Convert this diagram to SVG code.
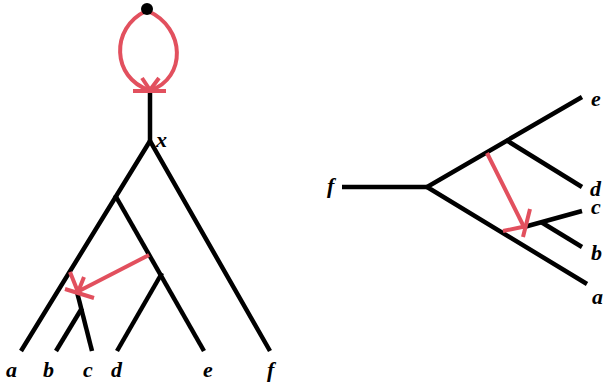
<svg xmlns="http://www.w3.org/2000/svg" width="603" height="388" viewBox="0 0 603 388">
<style>
.e{fill:none;stroke:#000;stroke-width:4.5;stroke-linecap:butt;stroke-linejoin:miter}
.r{fill:none;stroke:#e2505e;stroke-width:4;stroke-linecap:butt;stroke-linejoin:round}
.t{font-family:"Liberation Serif","Times New Roman",serif;font-style:italic;font-weight:bold;font-size:22px;fill:#000}
</style>
<rect width="603" height="388" fill="#fff"/>
<g id="connectors">
<g id="left-tree-edges">
<path class="e" d="M150,92 L150,141"/>
<path class="e" d="M21,351 L150,141 L270,351"/>
<path class="e" d="M115,195 L204,351"/>
<path class="e" d="M162,273 L117,351"/>
<path class="e" d="M77,292 L92,351"/>
<path class="e" d="M82,308 L56,351"/>
</g>
<g id="right-tree-edges">
<path class="e" d="M342,187 L427,187"/>
<path class="e" d="M582,97 L427,187 L587,284"/>
<path class="e" d="M506,140 L582,187"/>
<path class="e" d="M524,227 L582,211"/>
<path class="e" d="M541,222 L582,247"/>
</g>
<g id="reticulations">
<path class="r" d="M146,11 C110,28 112,78 149,90"/>
<path class="r" d="M148,11 C186,28 186,78 151,90"/>
<path class="r" d="M142,78 L150,90 L159,78 M133,91 L166,91"/>
<path class="r" d="M149,255 L79,291"/>
<path class="r" d="M70,272 L78,292 L84,277 M65,289 L94,298"/>
<path class="r" d="M487,153 L524,227"/>
<path class="r" d="M530,209 L523,237 M503,231 L527,226"/>
</g>
</g>
<g id="node-root-dot"><circle cx="147" cy="9" r="6" fill="#000"/></g>
<g id="node-x"><text class="t" x="156" y="147">x</text></g>
<g id="left-leaves">
<g id="leaf-a-left"><text class="t" x="6" y="377">a</text></g>
<g id="leaf-b-left"><text class="t" x="43" y="377">b</text></g>
<g id="leaf-c-left"><text class="t" x="83" y="377">c</text></g>
<g id="leaf-d-left"><text class="t" x="111" y="377">d</text></g>
<g id="leaf-e-left"><text class="t" x="203" y="377">e</text></g>
<g id="leaf-f-left"><text class="t" x="267" y="377">f</text></g>
</g>
<g id="right-leaves">
<g id="leaf-f-right"><text class="t" x="327" y="193">f</text></g>
<g id="leaf-e-right"><text class="t" x="591" y="106">e</text></g>
<g id="leaf-d-right"><text class="t" x="590" y="196">d</text></g>
<g id="leaf-c-right"><text class="t" x="591" y="214">c</text></g>
<g id="leaf-b-right"><text class="t" x="591" y="260">b</text></g>
<g id="leaf-a-right"><text class="t" x="592" y="304">a</text></g>
</g>
</svg>
